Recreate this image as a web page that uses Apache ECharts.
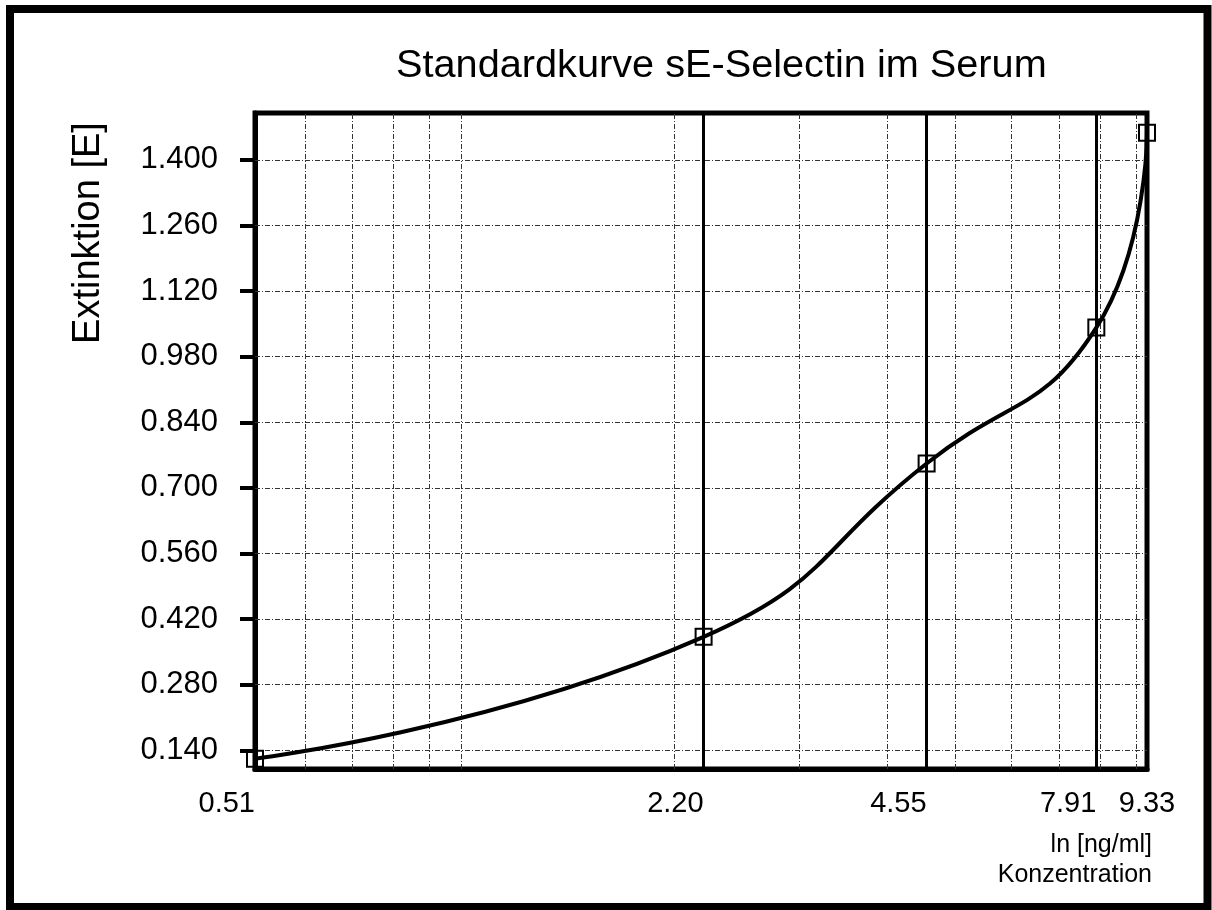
<!DOCTYPE html>
<html>
<head>
<meta charset="utf-8">
<script src="https://cdn.jsdelivr.net/npm/echarts@6/dist/echarts.min.js"></script>
<style>
html,body{margin:0;padding:0;background:#fff;}
#chart{width:1212px;height:910px;}
</style>
</head>
<body>
<div id="chart"></div>
<script>
// ---- data ----
const titleText = 'Standardkurve sE-Selectin im Serum';
const yAxisTitle = 'Extinktion [E]';
const xAxisTitle = 'ln [ng/ml]\nKonzentration';
const concentrations = [0.51, 2.20, 4.55, 7.91, 9.33];
const extinctions = [0.122, 0.382, 0.752, 1.042, 1.458];
const xTickLabels = [0.51, 2.20, 4.55, 7.91];
const xLastTickLabel = [9.33];
const xMinorGrid = [0.6, 0.7, 0.8, 0.9, 1, 2, 3, 4, 5, 6, 7, 8, 9];
const xMajorGrid = [2.20, 4.55, 7.91];
const yTicks = [0.14, 0.28, 0.42, 0.56, 0.70, 0.84, 0.98, 1.12, 1.26, 1.40];
const xRange = [0.51, 9.33];
const yRange = [0.10, 1.50];

const FONT = '"Liberation Sans", Arial, sans-serif';
const dashDot = [5, 2, 1, 2];

const chart = echarts.init(document.getElementById('chart'), null, {renderer: 'canvas'});

const gridLines = [];
xMinorGrid.forEach(v => gridLines.push({xAxis: v, lineStyle: {color: '#333', width: 1, type: dashDot}}));
yTicks.forEach(v => gridLines.push({yAxis: v, lineStyle: {color: '#333', width: 1, type: dashDot}}));
xMajorGrid.forEach(v => gridLines.push({xAxis: v, lineStyle: {color: '#000', width: 3, type: 'solid'}}));

const logAxisBase = {
  type: 'log',
  logBase: 10,
  min: xRange[0],
  max: xRange[1],
  position: 'bottom',
  splitLine: {show: false},
  minorTick: {show: false},
  minorSplitLine: {show: false},
  axisTick: {show: false}
};

chart.setOption({
  animation: false,
  backgroundColor: '#fff',
  title: {
    text: titleText,
    left: 391,
    top: 41,
    textStyle: {fontFamily: FONT, fontSize: 39.7, fontWeight: 'normal', color: '#000'}
  },
  grid: {
    left: 255, right: 65, top: 113, bottom: 141,
    outerBoundsMode: 'none',
    containLabel: false,
    show: true, borderColor: '#000', borderWidth: 5, backgroundColor: 'transparent'
  },
  xAxis: [
    Object.assign({}, logAxisBase, {
      axisLine: {show: true, lineStyle: {color: '#000', width: 5}},
      axisLabel: {
        customValues: xTickLabels,
        formatter: v => Number(v).toFixed(2),
        align: 'right',
        margin: 20,
        fontSize: 29,
        fontFamily: FONT,
        color: '#000'
      }
    }),
    Object.assign({}, logAxisBase, {
      axisLine: {show: false},
      axisLabel: {
        customValues: xLastTickLabel,
        formatter: v => Number(v).toFixed(2),
        align: 'center',
        margin: 20,
        fontSize: 29,
        fontFamily: FONT,
        color: '#000'
      }
    })
  ],
  yAxis: {
    type: 'value',
    min: yRange[0],
    max: yRange[1],
    splitLine: {show: false},
    axisLine: {show: true, lineStyle: {color: '#000', width: 5}},
    axisTick: {show: true, customValues: yTicks, length: 15, lineStyle: {color: '#000', width: 4}},
    axisLabel: {
      customValues: yTicks,
      formatter: v => Number(v).toFixed(3),
      margin: 37,
      fontSize: 31,
      fontFamily: FONT,
      color: '#000'
    }
  },
  graphic: [
    {
      type: 'rect',
      shape: {x: 10, y: 9, width: 1197.5, height: 898},
      style: {fill: null, stroke: '#000', lineWidth: 8},
      z: 100
    },
    {
      type: 'text',
      x: 89, y: 233,
      rotation: Math.PI / 2,
      style: {
        text: yAxisTitle, font: '38px ' + FONT, fill: '#000',
        align: 'center', verticalAlign: 'middle'
      }
    },
    {
      type: 'text',
      x: 1152, y: 830,
      style: {
        text: xAxisTitle, font: '25px ' + FONT, fill: '#000',
        align: 'right', verticalAlign: 'top', lineHeight: 30
      }
    }
  ],
  series: [
    {
      type: 'line',
      name: 'grid',
      data: [],
      silent: true,
      z: 1,
      markLine: {
        silent: true,
        symbol: 'none',
        label: {show: false},
        animation: false,
        data: gridLines
      }
    },
    {
      type: 'line',
      name: 'Standardkurve',
      data: concentrations.map((c, i) => [c, extinctions[i]]),
      smooth: 0.5,
      clip: false,
      z: 5,
      symbol: 'rect',
      symbolSize: 16,
      showAllSymbol: true,
      lineStyle: {color: '#000', width: 4},
      itemStyle: {color: 'rgba(0,0,0,0)', borderColor: '#000', borderWidth: 2}
    }
  ]
});
</script>
</body>
</html>
